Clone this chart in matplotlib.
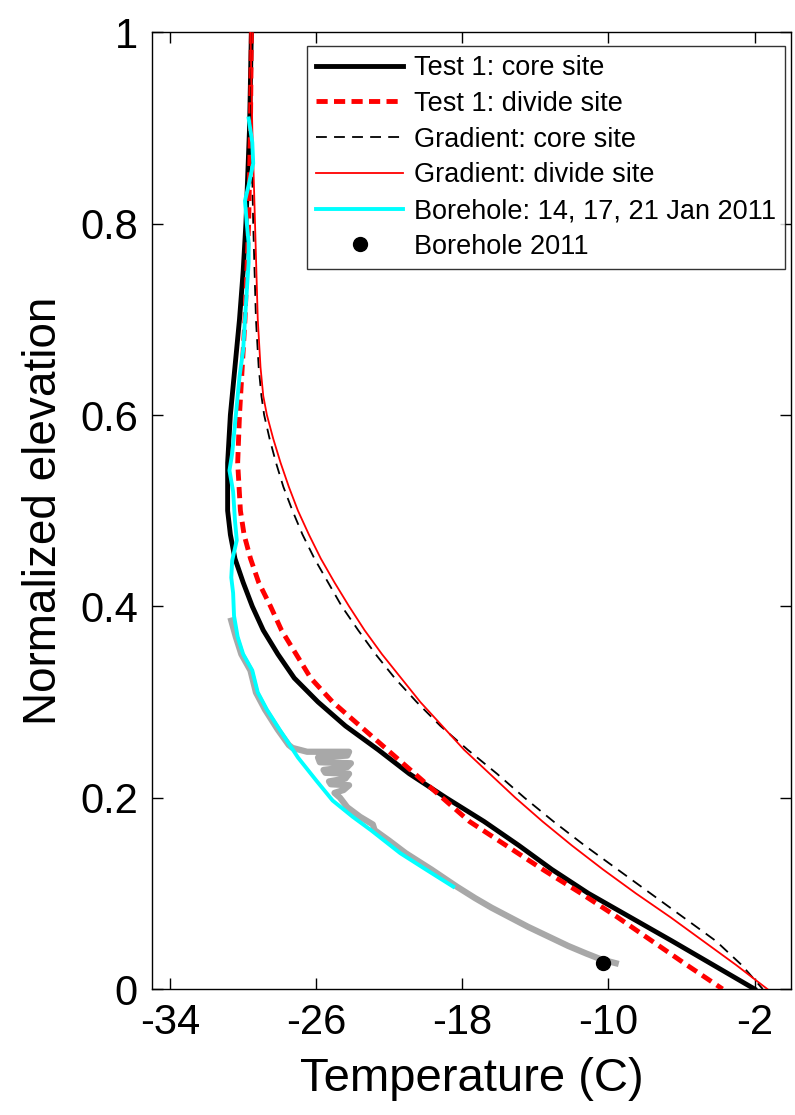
import matplotlib
matplotlib.use('Agg')
import matplotlib.pyplot as plt

plt.rcParams['font.family'] = ['Liberation Sans', 'DejaVu Sans']

# Test 1: core site (thick black)
core_z = [1.0, 0.9, 0.8, 0.75, 0.7, 0.65, 0.6, 0.55, 0.5, 0.475, 0.45, 0.425, 0.4,
          0.375, 0.35, 0.325, 0.3, 0.275, 0.25, 0.225, 0.2, 0.175, 0.15, 0.125,
          0.1, 0.075, 0.05, 0.025, 0.0]
core_T = [-29.55, -29.65, -29.85, -30.0, -30.2, -30.45, -30.7, -30.85, -30.85,
          -30.7, -30.45, -30.0, -29.5, -28.9, -28.1, -27.2, -25.9, -24.4, -22.6,
          -20.9, -18.9, -16.8, -14.9, -13.1, -11.1, -8.8, -6.5, -4.25, -2.0]

# Test 1: divide site (thick red dashed)
divide_z = [1.0, 0.9, 0.8, 0.7, 0.6, 0.55, 0.5, 0.475, 0.45, 0.425, 0.4, 0.375,
            0.35, 0.325, 0.3, 0.275, 0.25, 0.225, 0.2, 0.175, 0.15, 0.125, 0.1,
            0.075, 0.05, 0.025, 0.0]
divide_T = [-29.55, -29.6, -29.7, -29.9, -30.2, -30.3, -30.15, -29.95, -29.6, -29.15,
            -28.5, -27.9, -27.1, -26.3, -25.1, -23.6, -22.1, -20.6, -19.1, -17.6,
            -15.6, -13.6, -11.5, -9.5, -7.6, -5.7, -3.75]

# Gradient: core site (thin black dashed)
gcore_z = [1.0, 0.9, 0.8, 0.7, 0.65, 0.62, 0.6, 0.575, 0.55, 0.525, 0.5, 0.475,
           0.45, 0.425, 0.4, 0.375, 0.35, 0.325, 0.3, 0.275, 0.25, 0.225, 0.2,
           0.175, 0.15, 0.125, 0.1, 0.075, 0.05, 0.025, 0.0]
gcore_T = [-29.6, -29.55, -29.45, -29.3, -29.15, -29.0, -28.85, -28.55, -28.2, -27.8,
           -27.3, -26.75, -26.1, -25.35, -24.6, -23.7, -22.75, -21.7, -20.5, -19.2,
           -17.7, -16.1, -14.6, -13.0, -11.3, -9.5, -7.7, -5.9, -4.1, -2.7, -1.55]

# Gradient: divide site (thin red)
gdiv_z = [1.0, 0.9, 0.8, 0.7, 0.65, 0.62, 0.6, 0.575, 0.55, 0.525, 0.5, 0.475,
          0.45, 0.425, 0.4, 0.375, 0.35, 0.325, 0.3, 0.275, 0.25, 0.225, 0.2,
          0.175, 0.15, 0.125, 0.1, 0.075, 0.05, 0.025, 0.0]
gdiv_T = [-29.6, -29.5, -29.35, -29.2, -29.05, -28.9, -28.7, -28.35, -27.95, -27.5,
          -27.0, -26.4, -25.75, -25.0, -24.2, -23.35, -22.4, -21.35, -20.3, -19.1,
          -17.9, -16.5, -15.1, -13.6, -12.0, -10.3, -8.5, -6.6, -4.8, -3.0, -1.3]

# Borehole 14, 17, 21 Jan 2011 (cyan)
bh_z = [0.91, 0.885, 0.863, 0.84, 0.824, 0.8, 0.78, 0.759, 0.73, 0.7, 0.668, 0.64,
        0.6, 0.56, 0.542, 0.52, 0.49, 0.469, 0.448, 0.43, 0.414, 0.39, 0.368,
        0.35, 0.333, 0.31, 0.292, 0.271, 0.242, 0.218, 0.197, 0.18, 0.166,
        0.142, 0.125, 0.107]
bh_T = [-29.7, -29.5, -29.45, -29.7, -29.9, -29.8, -29.7, -29.7, -29.8, -29.9,
        -30.0, -30.2, -30.4, -30.6, -30.75, -30.55, -30.45, -30.35, -30.6, -30.65,
        -30.55, -30.5, -30.3, -30.0, -29.5, -29.2, -28.7, -28.0, -27.0, -26.0,
        -25.1, -24.0, -23.0, -21.4, -20.0, -18.5]

# raw borehole profile (grey)
raw_z = [0.385, 0.368, 0.35, 0.333, 0.31, 0.292, 0.271, 0.255, 0.252, 0.248, 0.248,
         0.244, 0.242, 0.237, 0.236, 0.232, 0.229, 0.226, 0.225, 0.22, 0.217,
         0.214, 0.213, 0.208, 0.205, 0.2, 0.19, 0.18, 0.172, 0.166, 0.155, 0.142,
         0.125, 0.107, 0.095, 0.085, 0.075, 0.065, 0.055, 0.045, 0.037, 0.031,
         0.027]
raw_T = [-30.65, -30.4, -30.1, -29.6, -29.3, -28.8, -28.1, -27.5, -27.3, -26.5,
         -24.2, -24.3, -25.9, -25.8, -24.1, -24.3, -25.6, -25.5, -24.2, -24.4,
         -25.3, -25.2, -24.2, -24.5, -25.0, -24.7, -24.3, -23.6, -22.9, -22.8,
         -22.0, -21.1, -19.7, -18.3, -17.3, -16.4, -15.4, -14.4, -13.3, -12.2,
         -11.2, -10.4, -9.6]

# Borehole 2011 point
pt_T = [-10.3]
pt_z = [0.027]

fig = plt.figure(figsize=(7.95, 11.15), dpi=100)
ax = fig.add_axes([0.191, 0.113, 0.804, 0.858])

ax.plot(raw_T, raw_z, color='#a8a8a8', lw=4.5, solid_joinstyle='round', zorder=1)
ax.plot(core_T, core_z, color='k', lw=3.5, label='Test 1: core site', zorder=3)
ax.plot(divide_T, divide_z, color='red', lw=3.5, ls=(0, (2.3, 1.3)),
        label='Test 1: divide site', zorder=3)
ax.plot(gcore_T, gcore_z, color='k', lw=1.3, ls=(0, (6, 4)),
        label='Gradient: core site', zorder=3)
ax.plot(gdiv_T, gdiv_z, color='red', lw=1.3, label='Gradient: divide site', zorder=3)
ax.plot(bh_T, bh_z, color='cyan', lw=2.8, label='Borehole: 14, 17, 21 Jan 2011', zorder=4)
ax.plot(pt_T, pt_z, 'o', color='k', ms=10, label='Borehole 2011', zorder=5)

ax.set_xlim(-35, 0)
ax.set_ylim(0, 1)
ax.set_xticks([-34, -26, -18, -10, -2])
ax.set_xticklabels(['-34', '-26', '-18', '-10', '-2'])
ax.set_yticks([0, 0.2, 0.4, 0.6, 0.8, 1])
ax.set_yticklabels(['0', '0.2', '0.4', '0.6', '0.8', '1'])
ax.tick_params(direction='in', top=True, right=True, length=8, width=1,
               labelsize=30, pad=10)
for s in ax.spines.values():
    s.set_linewidth(1)

ax.set_xlabel('Temperature (C)', fontsize=34, labelpad=10)
ax.set_ylabel('Normalized elevation', fontsize=33, labelpad=10)

leg = ax.legend(loc='upper right', bbox_to_anchor=(0.991, 0.986), borderaxespad=0,
                fontsize=19.5, frameon=True, fancybox=False, edgecolor='k',
                handlelength=3.2, handletextpad=0.4, labelspacing=0.36,
                borderpad=0.35, numpoints=1)
leg.get_frame().set_linewidth(1)

fig.savefig('out.png', dpi=100)
